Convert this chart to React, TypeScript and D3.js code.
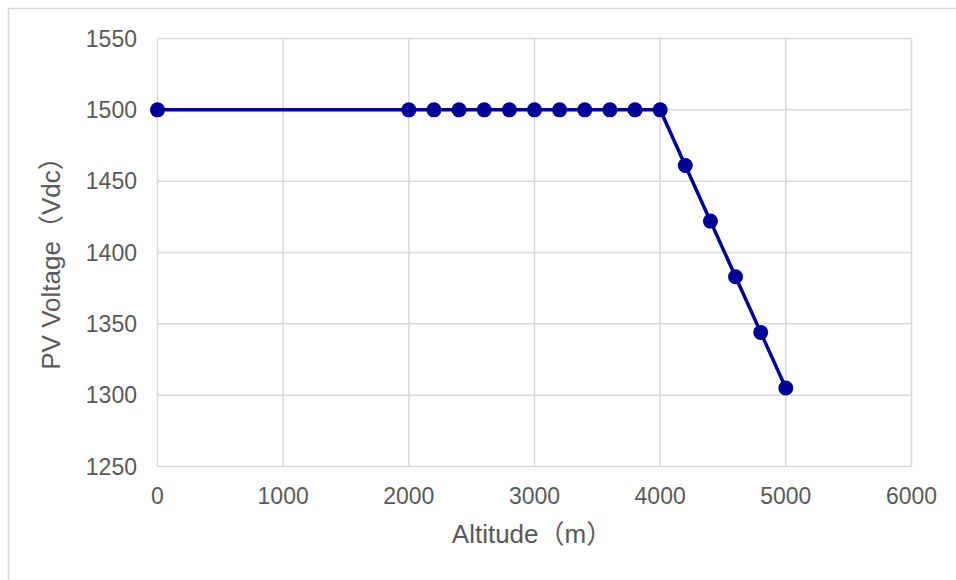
import React from "react";
import * as d3 from "d3";

const altitudes = [0, 2000, 2200, 2400, 2600, 2800, 3000, 3200, 3400, 3600, 3800, 4000, 4200, 4400, 4600, 4800, 5000];
const voltages = [1500, 1500, 1500, 1500, 1500, 1500, 1500, 1500, 1500, 1500, 1500, 1500, 1461, 1422, 1383, 1344, 1305];
const xTicks = [0, 1000, 2000, 3000, 4000, 5000, 6000];
const yTicks = [1250, 1300, 1350, 1400, 1450, 1500, 1550];
const xTitle = "Altitude（m）";
const yTitle = "PV Voltage（Vdc）";

const W = 956;
const H = 580;
const left = 157.5;
const right = 911.5;
const top = 38.5;
const bottom = 466.5;
const font = "'Liberation Sans', Arial, 'Noto Sans CJK SC', sans-serif";
const textColor = "#595959";
const gridColor = "#d9d9d9";
const lineColor = "#000096";

export default function App() {
  const x = d3.scaleLinear().domain([0, 6000]).range([left, right]);
  const y = d3.scaleLinear().domain([1250, 1550]).range([bottom, top]);
  const pts = altitudes.map((a, i) => [a, voltages[i]] as [number, number]);
  const line = d3
    .line<[number, number]>()
    .x((d) => x(d[0]))
    .y((d) => y(d[1]));

  return (
    <svg
      width={W}
      height={H}
      style={{ position: "absolute", left: 0, top: 0, display: "block" }}
      fontFamily={font}
    >
      <rect x={0} y={0} width={W} height={H} fill="#fff" />
      <rect x={8.5} y={8.5} width={W + 20} height={H + 20} fill="none" stroke="#d9d9d9" strokeWidth={1.5} />
      {xTicks.map((t) => (
        <line key={"gx" + t} x1={x(t)} x2={x(t)} y1={top} y2={bottom} stroke={gridColor} strokeWidth={1.5} />
      ))}
      {yTicks.map((t) => (
        <line key={"gy" + t} x1={left} x2={right} y1={y(t)} y2={y(t)} stroke={gridColor} strokeWidth={1.5} />
      ))}
      {yTicks.map((t) => (
        <text
          key={"ty" + t}
          x={137}
          y={y(t)}
          dy="0.36em"
          textAnchor="end"
          fontSize={23}
          fill={textColor}
        >
          {t}
        </text>
      ))}
      {xTicks.map((t) => (
        <text key={"tx" + t} x={x(t)} y={504} textAnchor="middle" fontSize={23} fill={textColor}>
          {t}
        </text>
      ))}
      <text x={532} y={543} textAnchor="middle" fontSize={26} fill={textColor}>
        {xTitle}
      </text>
      <text
        transform={`translate(${60},${257}) rotate(-90)`}
        textAnchor="middle"
        fontSize={26}
        fill={textColor}
      >
        {yTitle}
      </text>
      <path d={line(pts) || ""} fill="none" stroke={lineColor} strokeWidth={3.5} strokeLinejoin="round" />
      {pts.map((p, i) => (
        <circle key={"p" + i} cx={x(p[0])} cy={y(p[1])} r={7.5} fill={lineColor} />
      ))}
    </svg>
  );
}
